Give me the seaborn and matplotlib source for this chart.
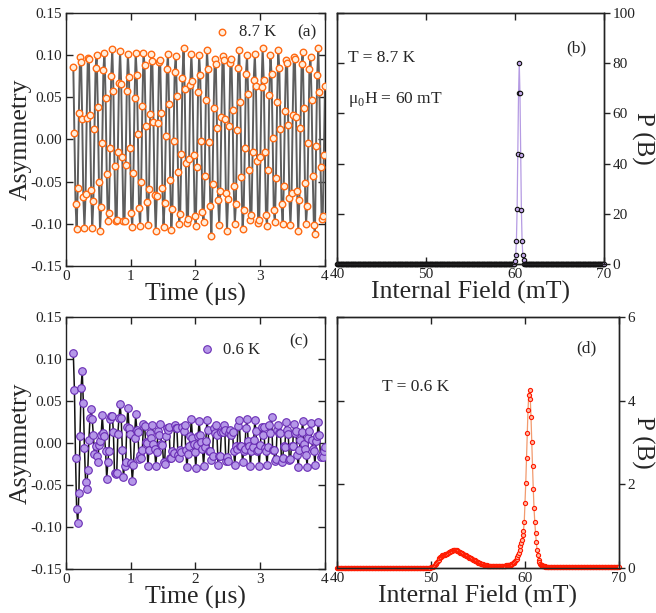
import numpy as np
import matplotlib
matplotlib.use("Agg")
import matplotlib.pyplot as plt
import seaborn as sns

# time bins (us), same binning for both temperatures
time_us = np.linspace(0.113, 4.0, 227)

# asymmetry at 8.7 K
asym_87K = [
    0.086, 0.008, -0.076, -0.106, -0.057, 0.032, 0.098, 0.092, 0.024, -0.068,
    -0.105, -0.065, 0.026, 0.097, 0.096, 0.029, -0.060, -0.105, -0.073, 0.012,
    0.085, 0.100, 0.039, -0.051, -0.108, -0.080, -0.004, 0.082, 0.103, 0.049,
    -0.041, -0.097, -0.087, -0.010, 0.075, 0.107, 0.058, -0.031, -0.097, -0.096,
    -0.015, 0.067, 0.105, 0.066, -0.021, -0.097, -0.097, -0.030, 0.058, 0.101,
    0.074, -0.010, -0.087, -0.104, -0.040, 0.049, 0.103, 0.077, 0.006, -0.081,
    -0.103, -0.050, 0.040, 0.103, 0.088, 0.016, -0.074, -0.101, -0.059, 0.030,
    0.101, 0.093, 0.021, -0.066, -0.109, -0.067, 0.019, 0.092, 0.094, 0.032,
    -0.057, -0.104, -0.075, 0.004, 0.083, 0.101, 0.042, -0.048, -0.107, -0.082,
    -0.002, 0.080, 0.099, 0.051, -0.038, -0.100, -0.088, -0.017, 0.073, 0.108,
    0.060, -0.028, -0.099, -0.094, -0.023, 0.065, 0.101, 0.069, -0.018, -0.091,
    -0.102, -0.033, 0.056, 0.100, 0.076, -0.002, -0.086, -0.098, -0.043, 0.047,
    0.106, 0.083, -0.003, -0.079, -0.114, -0.053, 0.037, 0.096, 0.089, 0.014,
    -0.072, -0.101, -0.061, 0.027, 0.099, 0.094, 0.024, -0.064, -0.108, -0.070,
    0.016, 0.091, 0.096, 0.035, -0.055, -0.100, -0.077, 0.011, 0.085, 0.106,
    0.044, -0.045, -0.106, -0.084, -0.010, 0.078, 0.100, 0.054, -0.036, -0.095,
    -0.090, -0.015, 0.071, 0.101, 0.063, -0.025, -0.099, -0.095, -0.021, 0.062,
    0.109, 0.071, -0.015, -0.090, -0.103, -0.036, 0.053, 0.100, 0.078, 0.002,
    -0.084, -0.098, -0.046, 0.044, 0.106, 0.085, 0.012, -0.077, -0.100, -0.055,
    0.034, 0.094, 0.091, 0.017, -0.069, -0.101, -0.064, 0.029, 0.098, 0.096,
    0.027, -0.061, -0.109, -0.072, 0.014, 0.089, 0.104, 0.037, -0.052, -0.100,
    -0.079, -0.004, 0.083, 0.098, 0.047, -0.043, -0.101, -0.112, -0.008, 0.076,
    0.108, 0.056, -0.033, -0.094, -0.091, -0.018, 0.064,
]

# asymmetry at 0.6 K
asym_06K = [
    0.107, 0.063, -0.018, -0.079, -0.095, -0.060, 0.008, 0.066, 0.086, 0.048,
    -0.006, -0.046, -0.055, -0.032, 0.004, 0.030, 0.040, 0.028,
    0.009, -0.013, -0.003, -0.016, -0.023, -0.002, 0.002, 0.009, 0.033, 0.012, 0.008, -0.010,
    -0.043, -0.023, -0.009, 0.029, 0.032, 0.032, 0.013, -0.036, -0.037, -0.036,
    0.011, 0.030, 0.046, 0.030, -0.008, -0.040, -0.027, -0.023, 0.019, 0.042,
    0.018, 0.011, -0.024, -0.045, -0.026, 0.006, 0.034, 0.016, 0.013, -0.019,
    -0.014, -0.018, -0.008, 0.023, 0.020, 0.001, 0.000, -0.027, -0.008, 0.012,
    0.006, 0.022, -0.001, -0.007, -0.027,
    -0.011, 0.014, 0.009, 0.023, -0.001, -0.002, -0.023, -0.025, 0.008, 0.018,
    0.015, 0.019, -0.018, -0.018, -0.009, -0.012, 0.021, 0.018, 0.018, -0.014,
    -0.018, -0.008, -0.011, 0.019, 0.014, 0.021, -0.008, -0.029, -0.013, -0.004,
    0.008, 0.028, 0.006, -0.001, -0.011, -0.030, -0.002, 0.008, 0.026, 0.009,
    0.001, -0.007, -0.027, -0.005, 0.002, 0.027, 0.015, -0.009, -0.010, -0.020,
    -0.016, 0.018, 0.012, 0.021, 0.010, -0.026, -0.016, -0.015, 0.013, 0.013,
    0.021, 0.015, -0.022, -0.017, -0.021, 0.012, 0.016, 0.010, 0.013, -0.010,
    -0.026, -0.004, -0.007, 0.020, 0.027, -0.003, -0.004, -0.023, -0.009, -0.007,
    0.018, 0.028, 0.002, -0.003, -0.027, -0.009, -0.005, 0.004, 0.027, 0.014,
    -0.010, -0.008, -0.027, -0.002, 0.019, 0.009, 0.019, -0.006, -0.010, -0.026,
    -0.005, 0.021, 0.012, 0.031, -0.008, -0.008, -0.022, -0.019, 0.015, 0.021,
    0.012, 0.012, -0.023, -0.018, -0.004, -0.005, 0.025, 0.015, 0.011, -0.020,
    -0.019, -0.003, -0.004, 0.023, 0.012, 0.014, -0.014, -0.028, -0.008, 0.004,
    0.013, 0.026, -0.001, -0.007, -0.014, -0.028, 0.006, 0.014, 0.024, 0.003,
    -0.007, -0.010, -0.026, 0.002, 0.008, 0.025, 0.009, -0.017, -0.014, -0.017,
    -0.009, -0.005,
]

# field grid (mT) of the maximum-entropy field distributions
field_mT = np.linspace(40, 70, 376)

# P(B) at 8.7 K: single sharp line near 60.5 mT
pb_87K = ([0.0] * 250
          + [1.2, 3.5, 9.0, 22.0, 44.0, 68.0, 80.0, 68.0, 43.5, 21.5, 9.0, 3.5, 1.5]
          + [0.0] * 113)

# P(B) at 0.6 K: broad hump near 52.7 mT plus sharp line near 60.5 mT
pb_06K = ([0.01] * 125
          + [0.015, 0.02, 0.025, 0.035, 0.05, 0.065, 0.085, 0.11, 0.14, 0.17, 0.20, 0.23, 0.255]
          + [0.275, 0.29, 0.30, 0.31, 0.315, 0.32, 0.325, 0.33, 0.34, 0.35, 0.36, 0.375, 0.385]
          + [0.395, 0.405, 0.415, 0.42, 0.425, 0.43, 0.43, 0.425, 0.42, 0.41, 0.40, 0.39, 0.38]
          + [0.37, 0.36, 0.35, 0.34, 0.33, 0.32, 0.31, 0.30, 0.29, 0.28, 0.27, 0.26]
          + [0.25, 0.24, 0.23, 0.22, 0.21, 0.20, 0.19, 0.18, 0.17, 0.16, 0.15, 0.14, 0.13]
          + [0.12, 0.11, 0.10, 0.095, 0.09, 0.085, 0.08, 0.075, 0.07, 0.065, 0.06, 0.057]
          + [0.055, 0.053, 0.05, 0.048, 0.047, 0.046, 0.045, 0.045, 0.045, 0.045, 0.045, 0.045,
             0.046, 0.046, 0.047, 0.048, 0.049, 0.05, 0.05, 0.051, 0.052, 0.053, 0.055, 0.057, 0.06]
          + [0.062, 0.065, 0.068, 0.072, 0.077, 0.083, 0.09, 0.1, 0.11, 0.125, 0.14, 0.16, 0.19]
          + [0.22, 0.26, 0.31, 0.37, 0.44, 0.52, 0.60, 0.68]
          + [0.78, 0.89, 1.10, 1.55, 2.03, 2.63, 3.23, 3.78, 4.14, 4.25]
          + [4.05, 3.60, 3.00, 2.43, 1.89, 1.43, 1.10, 0.84, 0.62, 0.44,
             0.30, 0.20, 0.14, 0.10, 0.08, 0.065, 0.055, 0.05, 0.045, 0.04]
          + [0.035] * 10 + [0.03] * 15 + [0.025] * 20 + [0.02] * 24 + [0.015] * 30)

asym_ticks = [-0.15, -0.10, -0.05, 0.00, 0.05, 0.10, 0.15]

sns.set_style("ticks")
plt.rcParams['font.family'] = ['Liberation Serif', 'DejaVu Serif']
plt.rcParams['mathtext.fontset'] = 'custom'
plt.rcParams['mathtext.rm'] = 'Liberation Serif'
plt.rcParams['axes.unicode_minus'] = False
plt.rcParams['axes.edgecolor'] = '#222222'
plt.rcParams['axes.linewidth'] = 1.0

fig = plt.figure(figsize=(6.56, 6.13), dpi=100)
ax_a = fig.add_axes([0.1006, 0.5661, 0.3948, 0.4127])
ax_b = fig.add_axes([0.5137, 0.5693, 0.4070, 0.4095])
ax_c = fig.add_axes([0.1006, 0.0718, 0.3948, 0.4111])
ax_d = fig.add_axes([0.5137, 0.0734, 0.4299, 0.4095])


def style_time_axes(ax):
    ax.set_xlim(0, 4)
    ax.set_ylim(-0.15, 0.15)
    ax.set_xticks([0, 1, 2, 3, 4])
    ax.set_yticks(asym_ticks)
    ax.yaxis.set_major_formatter('{x:.2f}')
    ax.tick_params(direction='in', top=True, right=True, length=5, width=1,
                   labelsize=11, pad=3, colors='#222222')
    ax.set_xlabel('Time (μs)', fontsize=18.5, labelpad=0)
    ax.set_ylabel('Asymmetry', fontsize=18.5, labelpad=-1)


def style_field_axes(ax, ymax, ystep):
    ax.set_xlim(40, 70)
    ax.set_ylim(0, ymax)
    ax.set_xticks([40, 50, 60, 70])
    ax.set_yticks(np.arange(0, ymax + 0.1, ystep))
    ax.tick_params(direction='in', top=True, right=False, left=True, labelleft=False,
                   length=5, width=1, labelsize=11, pad=3, colors='#222222')
    ax.set_xlabel('Internal Field (mT)', fontsize=18.5, labelpad=0)
    twin = ax.twinx()
    twin.set_ylim(0, ymax)
    twin.set_yticks(np.arange(0, ymax + 0.1, ystep))
    twin.tick_params(direction='out', length=4, width=1, labelsize=11, pad=2, colors='#222222')
    twin.set_ylabel('P (B)', fontsize=18, rotation=270, va='bottom', labelpad=-3)
    sns.despine(ax=twin, top=False, right=False, left=False, bottom=False)
    return twin


# (a) 8.7 K asymmetry
sns.lineplot(x=time_us, y=asym_87K, ax=ax_a, color='#5e5e5e', lw=1.4, zorder=1)
sns.scatterplot(x=time_us, y=asym_87K, ax=ax_a, s=22, color='#ffeedd',
                edgecolor='#ff6a13', linewidth=1.0, label='8.7 K', zorder=3)
style_time_axes(ax_a)
ax_a.legend(loc='center left', bbox_to_anchor=(0.545, 0.925), frameon=False,
            fontsize=12, handlelength=1.0, handletextpad=0.5, borderaxespad=0)
ax_a.text(0.93, 0.925, '(a)', transform=ax_a.transAxes, fontsize=12.5,
          ha='center', va='center')

# (b) 8.7 K field distribution
sns.lineplot(x=field_mT, y=pb_87K, ax=ax_b, color='#b59be3', lw=0.9, zorder=1)
sns.scatterplot(x=field_mT, y=pb_87K, ax=ax_b, s=10, color='#c3a8ea',
                edgecolor='#111111', linewidth=0.8, zorder=3, clip_on=False)
style_field_axes(ax_b, 100, 20)
ax_b.text(0.04, 0.82, 'T = 8.7 K', transform=ax_b.transAxes, fontsize=12.5,
          ha='left', va='center')
ax_b.text(0.04, 0.655, 'μ$_0$H = 60 mT', transform=ax_b.transAxes, fontsize=12.5,
          ha='left', va='center')
ax_b.text(0.895, 0.86, '(b)', transform=ax_b.transAxes, fontsize=12.5,
          ha='center', va='center')

# (c) 0.6 K asymmetry
sns.lineplot(x=time_us, y=asym_06K, ax=ax_c, color='#111111', lw=1.1, zorder=1)
sns.scatterplot(x=time_us, y=asym_06K, ax=ax_c, s=30, color='#b597e8',
                edgecolor='#6a2db5', linewidth=0.8, label='0.6 K', zorder=3)
style_time_axes(ax_c)
ax_c.legend(loc='center left', bbox_to_anchor=(0.485, 0.87), frameon=False,
            fontsize=12, handlelength=1.0, handletextpad=0.5, borderaxespad=0)
ax_c.text(0.9, 0.905, '(c)', transform=ax_c.transAxes, fontsize=12.5,
          ha='center', va='center')

# (d) 0.6 K field distribution
sns.lineplot(x=field_mT, y=pb_06K, ax=ax_d, color='#f29a6e', lw=0.9, zorder=1)
sns.scatterplot(x=field_mT, y=pb_06K, ax=ax_d, s=9, color='#ffb9a3',
                edgecolor='#ff1a00', linewidth=0.8, zorder=3, clip_on=False)
style_field_axes(ax_d, 6, 2)
ax_d.text(0.158, 0.72, 'T = 0.6 K', transform=ax_d.transAxes, fontsize=12.5,
          ha='left', va='center')
ax_d.text(0.885, 0.876, '(d)', transform=ax_d.transAxes, fontsize=12.5,
          ha='center', va='center')

fig.savefig('out.png', dpi=100)
